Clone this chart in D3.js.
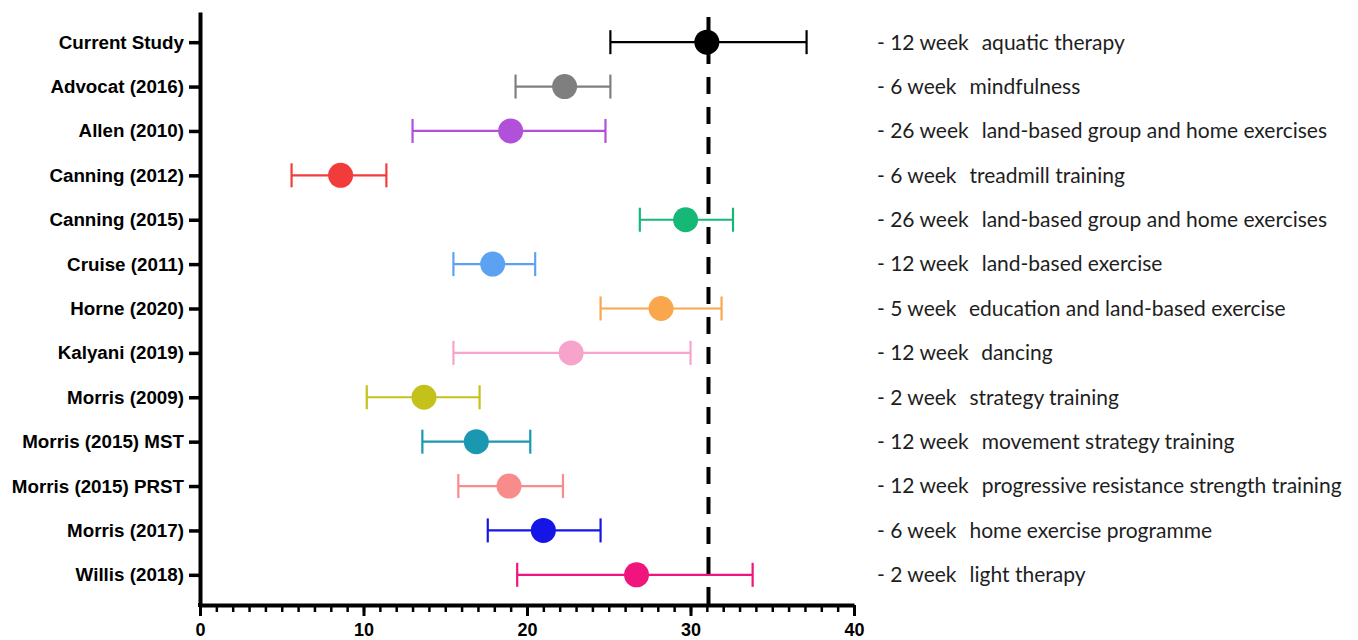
<!DOCTYPE html>
<html>
<head>
<meta charset="utf-8">
<script src="https://cdn.jsdelivr.net/npm/d3@7"></script>
<style>
  html, body { margin: 0; padding: 0; background: #fff; }
  svg { display: block; }
</style>
</head>
<body>
<svg id="chart" width="1358" height="640"></svg>
<script>
const studies = ["Current Study","Advocat (2016)","Allen (2010)","Canning (2012)","Canning (2015)","Cruise (2011)","Horne (2020)","Kalyani (2019)","Morris (2009)","Morris (2015) MST","Morris (2015) PRST","Morris (2017)","Willis (2018)"];
const means = [31.0, 22.3, 19.0, 8.6, 29.7, 17.9, 28.2, 22.7, 13.7, 16.9, 18.9, 21.0, 26.7];
const lows  = [25.1, 19.3, 13.0, 5.6, 26.9, 15.5, 24.5, 15.5, 10.2, 13.6, 15.8, 17.6, 19.4];
const highs = [37.1, 25.1, 24.8, 11.4, 32.6, 20.5, 31.9, 30.0, 17.1, 20.2, 22.2, 24.5, 33.8];
const colors = ["#000000","#7f7f7f","#b150d8","#f23c3c","#16b878","#5ba3f2","#f9a64c","#f7a3cb","#c4c21a","#1a98b2","#f88c8a","#1515e6","#f0157c"];
const durations = ["- 12 week","- 6 week","- 26 week","- 6 week","- 26 week","- 12 week","- 5 week","- 12 week","- 2 week","- 12 week","- 12 week","- 6 week","- 2 week"];
const interventions = ["aquatic therapy","mindfulness","land-based group and home exercises","treadmill training","land-based group and home exercises","land-based exercise","education and land-based exercise","dancing","strategy training","movement strategy training","progressive resistance strength training","home exercise programme","light therapy"];
const referenceValue = 31.1;
const xTicks = [0, 10, 20, 30, 40];

const data = studies.map((s, i) => ({ name: s, mean: means[i], low: lows[i], high: highs[i], color: colors[i], dur: durations[i], desc: interventions[i] }));

const svg = d3.select("#chart");
const x = d3.scaleLinear().domain([0, 40]).range([200, 854]);
const y = d3.scalePoint().domain(studies).range([12, 605]).padding(0.68);

// minor x ticks
svg.append("g")
  .attr("transform", "translate(0,605)")
  .call(d3.axisBottom(x).tickValues(d3.range(0, 41)).tickSize(7).tickFormat("").tickSizeOuter(0))
  .call(g => g.select(".domain").remove())
  .call(g => g.selectAll("line").attr("stroke", "#000").attr("stroke-width", 2.5));

// major x ticks
const xg = svg.append("g")
  .attr("transform", "translate(0,605)")
  .call(d3.axisBottom(x).tickValues(xTicks).tickSize(11).tickSizeOuter(0).tickPadding(7))
  .call(g => g.select(".domain").attr("stroke", "#000").attr("stroke-width", 4))
  .call(g => g.selectAll("line").attr("stroke", "#000").attr("stroke-width", 3));
xg.selectAll("text").attr("font-family", "Liberation Sans, Arial, sans-serif").attr("font-weight", "bold").attr("font-size", 18).attr("fill", "#000");

// y axis
const yg = svg.append("g")
  .attr("transform", "translate(200,0)")
  .call(d3.axisLeft(y).tickSize(11).tickSizeOuter(0).tickPadding(5))
  .call(g => g.select(".domain").attr("stroke", "#000").attr("stroke-width", 4))
  .call(g => g.selectAll(".tick line").attr("stroke", "#000").attr("stroke-width", 3.5));
yg.selectAll("text").attr("font-family", "Liberation Sans, Arial, sans-serif").attr("font-weight", "bold").attr("font-size", 18.8).attr("fill", "#000");

// fix the corner so axes meet
svg.append("rect").attr("x", 198).attr("y", 603).attr("width", 4).attr("height", 4).attr("fill", "#000");

// error bars
const bars = svg.append("g").selectAll("g").data(data).join("g");
bars.append("line")
  .attr("x1", d => x(d.low)).attr("x2", d => x(d.high))
  .attr("y1", d => y(d.name)).attr("y2", d => y(d.name))
  .attr("stroke", d => d.color).attr("stroke-width", 2.2);
bars.append("line")
  .attr("x1", d => x(d.low)).attr("x2", d => x(d.low))
  .attr("y1", d => y(d.name) - 12).attr("y2", d => y(d.name) + 12)
  .attr("stroke", d => d.color).attr("stroke-width", 2.2);
bars.append("line")
  .attr("x1", d => x(d.high)).attr("x2", d => x(d.high))
  .attr("y1", d => y(d.name) - 12).attr("y2", d => y(d.name) + 12)
  .attr("stroke", d => d.color).attr("stroke-width", 2.2);

// dashed reference line
svg.append("line")
  .attr("x1", x(referenceValue)).attr("x2", x(referenceValue))
  .attr("y1", 17).attr("y2", 605)
  .attr("stroke", "#000").attr("stroke-width", 4).attr("stroke-dasharray", "17,13");

// dots
bars.append("circle")
  .attr("cx", d => x(d.mean)).attr("cy", d => y(d.name)).attr("r", 12.5)
  .attr("fill", d => d.color);

// annotations
const ann = svg.append("g").selectAll("text").data(data).join("text")
  .attr("x", 877).attr("y", d => y(d.name)).attr("dy", "0.35em")
  .attr("font-family", "Lato, 'Open Sans', sans-serif").attr("font-size", 21).attr("fill", "#1e1e1e");
ann.append("tspan").text(d => d.dur);
ann.append("tspan").attr("dx", 13).text(d => d.desc);
</script>
</body>
</html>
